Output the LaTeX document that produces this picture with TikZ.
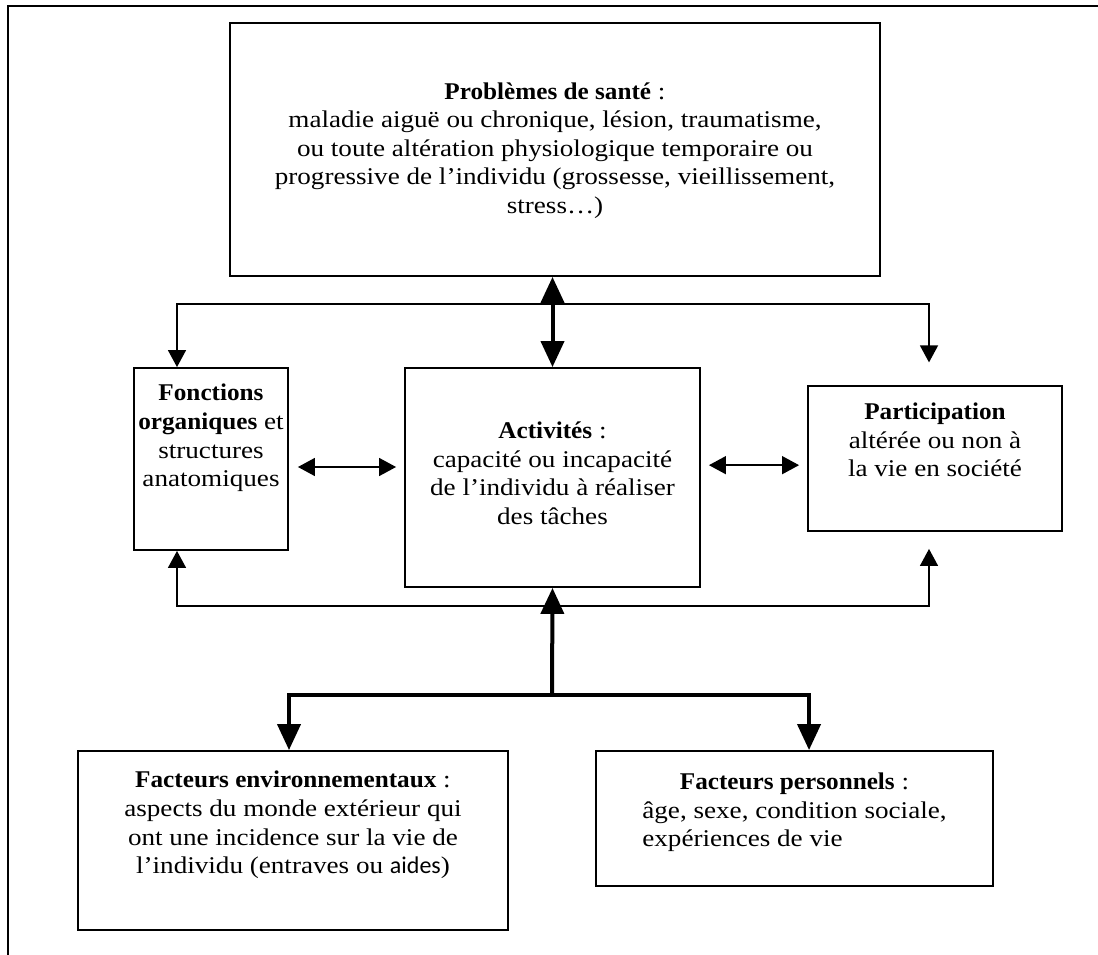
\documentclass[tikz,border=0pt]{standalone}
\usepackage{fontspec}
\setmainfont[FakeStretch=1.13, BoldFeatures={FakeStretch=1.05}]{Liberation Serif}
\newfontfamily\calibri{Carlito}
\usetikzlibrary{arrows.meta}

\begin{document}
\begin{tikzpicture}[x=0.75pt, y=-0.75pt,
        boite/.style={draw, line width=1.4pt, inner sep=0pt},
        texte/.style={align=center, inner sep=0pt, font=\fontsize{18}{21.4}\selectfont},
        fleche/.style={line width=1.1pt, >={Triangle[width=13.5pt, length=12.75pt]}},
        grosse/.style={line width=3pt, >={Triangle[width=17.25pt, length=19.5pt]}}]
        \useasboundingbox (0,0) rectangle (1098,955);
        \draw [line width=1.6pt] (8,955) -- (8,6) -- (1098,6);
        \node [boite, minimum width=487.5pt, minimum height=189.75pt] (sante) at (555,149.5) {};
        \node [boite, minimum width=115.5pt, minimum height=136.5pt] (fonctions) at (211,459) {};
        \node [boite, minimum width=221.25pt, minimum height=164.25pt] (activites) at (552.5,477.5) {};
        \node [boite, minimum width=190.5pt, minimum height=108.75pt] (particip) at (935,458.5) {};
        \node [boite, minimum width=322.5pt, minimum height=134.25pt] (env) at (293,840.5) {};
        \node [boite, minimum width=297.75pt, minimum height=101.25pt] (perso) at (794.5,818.5) {};
        \node [texte] (sante-txt) at (555,150.5) {\textbf{Problèmes de santé} :\\ maladie aiguë ou chronique, lésion, traumatisme,\\ ou toute altération physiologique temporaire ou\\ progressive de l’individu (grossesse, vieillissement,\\ stress…)};
        \node [texte] (fonctions-txt) at (211,438) {\textbf{Fonctions}\\ \textbf{organiques} et\\ structures\\ anatomiques};
        \node [texte] (activites-txt) at (552.5,473.5) {\textbf{Activités} :\\ capacité ou incapacité\\ de l’individu à réaliser\\ des tâches};
        \node [texte] (particip-txt) at (935,440) {\textbf{Participation}\\ altérée ou non à\\ la vie en société};
        \node [texte] (env-txt) at (293,825) {\textbf{Facteurs environnementaux} :\\ aspects du monde extérieur qui\\ ont une incidence sur la vie de\\ l’individu (entraves ou {\calibri aides})};
        \node [texte] (perso-txt) at (794.5,812.5) {\textbf{Facteurs personnels} :\\ âge, sexe, condition sociale,\\ \rlap{expériences de vie}\phantom{âge, sexe, condition sociale,}};
        \coordinate (hg) at (177,304);
        \coordinate (hd) at (929,304);
        \coordinate (bg) at (177,606);
        \coordinate (bd) at (929,606);
        \coordinate (jonction) at (552,695);
        \coordinate (fm) at ([yshift=-6pt]fonctions.east);
        \coordinate (pm) at ([yshift=-5pt]particip.west);
        \draw [fleche, ->] (hd) -- (hg) -- (hg |- fonctions.north);
        \draw [fleche, ->, shorten >=17pt] (hg) -- (hd) -- (hd |- particip.north);
        \draw [fleche, ->] (bd) -- (bg) -- (bg |- fonctions.south);
        \draw [fleche, ->, shorten >=12.75pt] (bg) -- (bd) -- (bd |- particip.south);
        \draw [fleche, <->, shorten <=6.75pt, shorten >=6pt] (fm) -- (activites.west |- fm);
        \draw [fleche, <->, shorten <=6pt, shorten >=6pt] (activites.east |- pm) -- (pm);
        \draw [grosse, <->] (activites.north |- sante.south) -- (activites.north);
        \draw [grosse, ->] (jonction) -- (activites.south);
        \draw [grosse, ->] (jonction) -| ([xshift=-3pt]env.north);
        \draw [grosse, ->] (jonction) -| ([xshift=10.9pt]perso.north);
    \end{tikzpicture}
\end{document}
